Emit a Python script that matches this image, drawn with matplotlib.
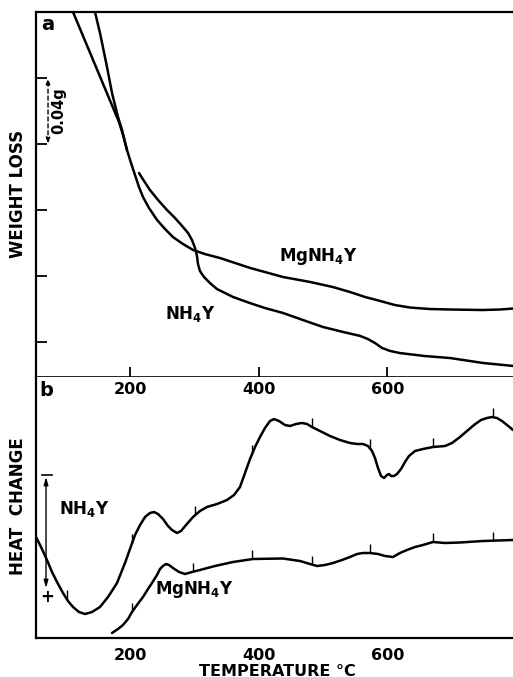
import numpy as np
import matplotlib
matplotlib.use("Agg")
import matplotlib.pyplot as plt

plt.rcParams['font.family'] = ['DejaVu Sans']
plt.rcParams['font.weight'] = 'bold'
plt.rcParams['mathtext.default'] = 'bf'

# ---- (a) thermogravimetric curves: temperature (deg C) vs weight loss (g) ----
tga_mg_T = [108.0, 110.9, 182.5, 188.7, 194.9, 201.2, 207.4, 213.6, 219.8, 229.2, 241.6,
            254.1, 266.5, 282.1, 297.7, 316.3, 339.7, 363.0, 386.4, 437.7, 479.8, 515.6,
            542.0, 565.4, 588.7, 612.1, 635.4, 666.5, 697.7, 749.0, 775.5, 795.7]
tga_mg_W = [-0.004, 0.0, 0.0667, 0.0745, 0.0836, 0.0915, 0.0988, 0.1061, 0.1121, 0.1188,
            0.1260, 0.1315, 0.1364, 0.1406, 0.1442, 0.1467, 0.1491, 0.1521, 0.1551, 0.1606,
            0.1636, 0.1667, 0.1697, 0.1727, 0.1751, 0.1776, 0.1791, 0.1800, 0.1803, 0.1806,
            0.1803, 0.1797]

# NH4Y: upper branch runs into the MgNH4Y trace, lower branch resumes near 214 C
tga_nh_T = [142.0, 145.1, 152.9, 163.8, 171.6, 180.9, 187.2, 194.9, np.nan,
            213.6, 221.4, 230.7, 243.2, 257.2, 269.6, 282.1, 289.9, 296.1, 300.8, 303.9,
            305.4, 308.5, 314.8, 324.1, 335.0, 347.5, 359.9, 386.4, 409.7, 437.7, 468.9,
            500.0, 531.1, 557.6, 570.0, 580.9, 591.8, 604.3, 619.8, 658.7, 697.7, 749.0,
            795.7]
tga_nh_W = [-0.0042, 0.0, 0.0127, 0.0333, 0.0491, 0.0636, 0.0715, 0.0836, np.nan,
            0.0976, 0.1024, 0.1079, 0.1139, 0.1200, 0.1248, 0.1303, 0.1339, 0.1382, 0.1430,
            0.1479, 0.1527, 0.1570, 0.1606, 0.1643, 0.1679, 0.1703, 0.1727, 0.1764, 0.1794,
            0.1824, 0.1867, 0.1909, 0.1939, 0.1963, 0.1982, 0.2006, 0.2036, 0.2054, 0.2067,
            0.2085, 0.2097, 0.2127, 0.2145]

# ---- (b) differential thermal curves: temperature vs heat change (arb. units) ----
dta_nh_T = [53.3, 61.1, 70.4, 78.2, 86.0, 95.3, 103.1, 110.9, 120.2, 129.6, 140.5, 152.9,
            165.4, 179.4, 191.8, 199.6, 207.4, 215.2, 223.0, 230.7, 237.0, 243.2, 251.0,
            258.7, 265.0, 272.8, 279.0, 286.8, 297.7, 308.5, 319.4, 335.0, 350.6, 361.5,
            370.8, 378.6, 386.4, 394.2, 401.9, 409.7, 417.5, 423.7, 431.5, 440.8, 448.6,
            458.0, 467.3, 475.1, 482.8, 495.3, 510.9, 526.4, 542.0, 552.9, 562.2, 570.0,
            576.3, 580.9, 585.6, 590.3, 594.9, 599.6, 602.7, 605.8, 610.5, 615.2, 621.4,
            627.6, 633.8, 643.2, 655.6, 671.2, 689.9, 700.8, 713.2, 724.1, 735.0, 745.9,
            755.2, 763.0, 770.8, 778.6, 786.4, 795.7]
dta_nh_H = [10.1, 9.1, 7.8, 6.6, 5.6, 4.5, 3.7, 3.1, 2.6, 2.4, 2.6, 3.1,
            4.1, 5.5, 7.5, 8.9, 10.3, 11.3, 12.1, 12.5, 12.6, 12.4, 11.9,
            11.2, 10.8, 10.5, 10.7, 11.3, 12.1, 12.7, 13.1, 13.4, 13.8, 14.3,
            15.1, 16.5, 17.9, 19.1, 20.1, 21.0, 21.7, 21.9, 21.7, 21.3, 21.2,
            21.4, 21.5, 21.4, 21.1, 20.7, 20.2, 19.8, 19.5, 19.4, 19.4, 19.2,
            18.7, 18.0, 17.0, 16.2, 16.0, 16.3, 16.4, 16.2, 16.2, 16.4, 16.9,
            17.6, 18.2, 18.7, 18.9, 19.1, 19.2, 19.5, 20.1, 20.7, 21.3, 21.8,
            22.0, 22.1, 22.0, 21.7, 21.3, 20.8]

dta_mg_T = [171.6, 180.9, 188.7, 196.5, 202.7, 210.5, 219.8, 227.6, 233.8, 241.6, 246.3,
            250.9, 255.6, 260.3, 266.5, 275.9, 285.2, 296.1, 308.5, 331.9, 359.9, 391.0,
            437.7, 464.2, 479.8, 490.6, 503.1, 515.6, 529.6, 542.0, 552.9, 562.2, 573.1,
            585.6, 596.5, 608.9, 619.8, 630.7, 643.2, 655.6, 671.2, 689.9, 713.2, 749.0,
            795.7]
dta_mg_H = [0.5, 0.9, 1.3, 1.9, 2.6, 3.3, 4.1, 4.9, 5.5, 6.3, 6.9,
            7.2, 7.4, 7.3, 7.0, 6.6, 6.4, 6.6, 6.8, 7.2, 7.6, 7.9,
            7.95, 7.7, 7.4, 7.2, 7.3, 7.5, 7.8, 8.1, 8.4, 8.5, 8.5,
            8.4, 8.2, 8.1, 8.5, 8.8, 9.1, 9.3, 9.6, 9.5, 9.55, 9.7,
            9.8]

# temperature marker pips along the DTA traces
pips_nh = [101.5, 202.7, 300.8, 389.5, 482.8, 573.1, 671.2, 764.6]
pips_mg = [202.7, 297.0, 389.5, 482.8, 573.1, 671.2, 764.6]

frame_ticks = [100, 200, 300, 400, 500, 600, 700]
temp_labels = [200, 400, 600]
weight_ticks = [0.04, 0.08, 0.12, 0.16, 0.20]

W, H = 513, 677
fig = plt.figure(figsize=(W / 100, H / 100), dpi=100)
L, R = 36, 513
ax_a = fig.add_axes([L / W, 1 - 377 / H, (R - L) / W, (377 - 12) / H])
ax_b = fig.add_axes([L / W, 1 - 638 / H, (R - L) / W, (638 - 377) / H], sharex=ax_a)

xlim = (53.3, 795.7)
lw = 1.8
spw = 1.6
line_kw = dict(color='black', lw=lw, solid_capstyle='round', solid_joinstyle='round')

# panel (a)
ax_a.plot(tga_mg_T, tga_mg_W, **line_kw)
ax_a.plot(tga_nh_T, tga_nh_W, **line_kw)
ax_a.set_xlim(*xlim)
ax_a.set_ylim(0.2212, 0.0)
ax_a.spines['right'].set_visible(False)
for s in ('left', 'top'):
    ax_a.spines[s].set_linewidth(spw)
ax_a.spines['bottom'].set_linewidth(1.2)
ax_a.set_yticks(weight_ticks)
ax_a.set_yticklabels([])
ax_a.tick_params(axis='y', direction='in', length=8, width=1.3, left=True)
ax_a.set_xticks(frame_ticks)
ax_a.tick_params(axis='x', direction='in', length=7, width=1.3, bottom=True,
                 labelbottom=False)

# 0.04 g scale bracket
ax_a.annotate('', xy=(72.0, weight_ticks[0]), xytext=(72.0, weight_ticks[1]),
              arrowprops=dict(arrowstyle='<|-|>,head_length=0.35,head_width=0.12',
                              color='black', lw=1.0, linestyle=(0, (3, 2)),
                              shrinkA=0, shrinkB=0))
ax_a.text(88, (weight_ticks[0] + weight_ticks[1]) / 2, '0.04g', rotation=90,
          ha='center', va='center', fontsize=10.5)

ax_a.text(72, 0.0078, 'a', fontsize=14, ha='center', va='center')
ax_a.text(493, 0.1481, r'MgNH$_4$Y', fontsize=12, ha='center', va='center')
ax_a.text(293, 0.1830, r'NH$_4$Y', fontsize=12, ha='center', va='center')

# panel (b)
ax_b.plot(dta_nh_T, dta_nh_H, **line_kw)
ax_b.plot(dta_mg_T, dta_mg_H, **line_kw)
ax_b.vlines(pips_nh, np.interp(pips_nh, dta_nh_T, dta_nh_H),
            np.interp(pips_nh, dta_nh_T, dta_nh_H) + 0.9, color='black', lw=1.0)
ax_b.vlines(pips_mg, np.interp(pips_mg, dta_mg_T, dta_mg_H),
            np.interp(pips_mg, dta_mg_T, dta_mg_H) + 0.9, color='black', lw=1.0)
ax_b.set_xlim(*xlim)
ax_b.set_ylim(0, 26.1)
ax_b.spines['right'].set_visible(False)
ax_b.spines['top'].set_visible(False)
ax_b.spines['left'].set_linewidth(spw)
ax_b.spines['bottom'].set_linewidth(spw)
ax_b.set_yticks([])
ax_b.set_xticks(temp_labels)
ax_b.set_xticklabels([str(t) for t in temp_labels], fontsize=11.5)
ax_b.tick_params(axis='x', length=0, pad=7)
for t in temp_labels:
    ax_b.text(t, 24.8, str(t), fontsize=11.5, ha='center', va='center')
ax_b.text(69, 24.8, 'b', fontsize=14, ha='center', va='center')

# heat-change scale bar
ax_b.annotate('', xy=(68.9, 16.1), xytext=(68.9, 5.0),
              arrowprops=dict(arrowstyle='<|-|>,head_length=0.45,head_width=0.13',
                              color='black', lw=1.0, shrinkA=0, shrinkB=0))
ax_b.plot([62.6, 78.2], [16.3, 16.3], color='black', lw=1.2)
ax_b.text(70.4, 4.05, '+', fontsize=12, ha='center', va='center')

ax_b.text(128, 12.9, r'NH$_4$Y', fontsize=12, ha='center', va='center')
ax_b.text(300, 4.9, r'MgNH$_4$Y', fontsize=12, ha='center', va='center')

fig.text(18 / W, 1 - 194 / H, 'WEIGHT LOSS', rotation=90, ha='center', va='center',
         fontsize=12)
fig.text(18 / W, 1 - 506 / H, 'HEAT  CHANGE', rotation=90, ha='center', va='center',
         fontsize=12)
fig.text(277 / W, 1 - 675.5 / H, 'TEMPERATURE °C', ha='center', va='baseline',
         fontsize=11.5)

fig.savefig('out.png', dpi=100)
